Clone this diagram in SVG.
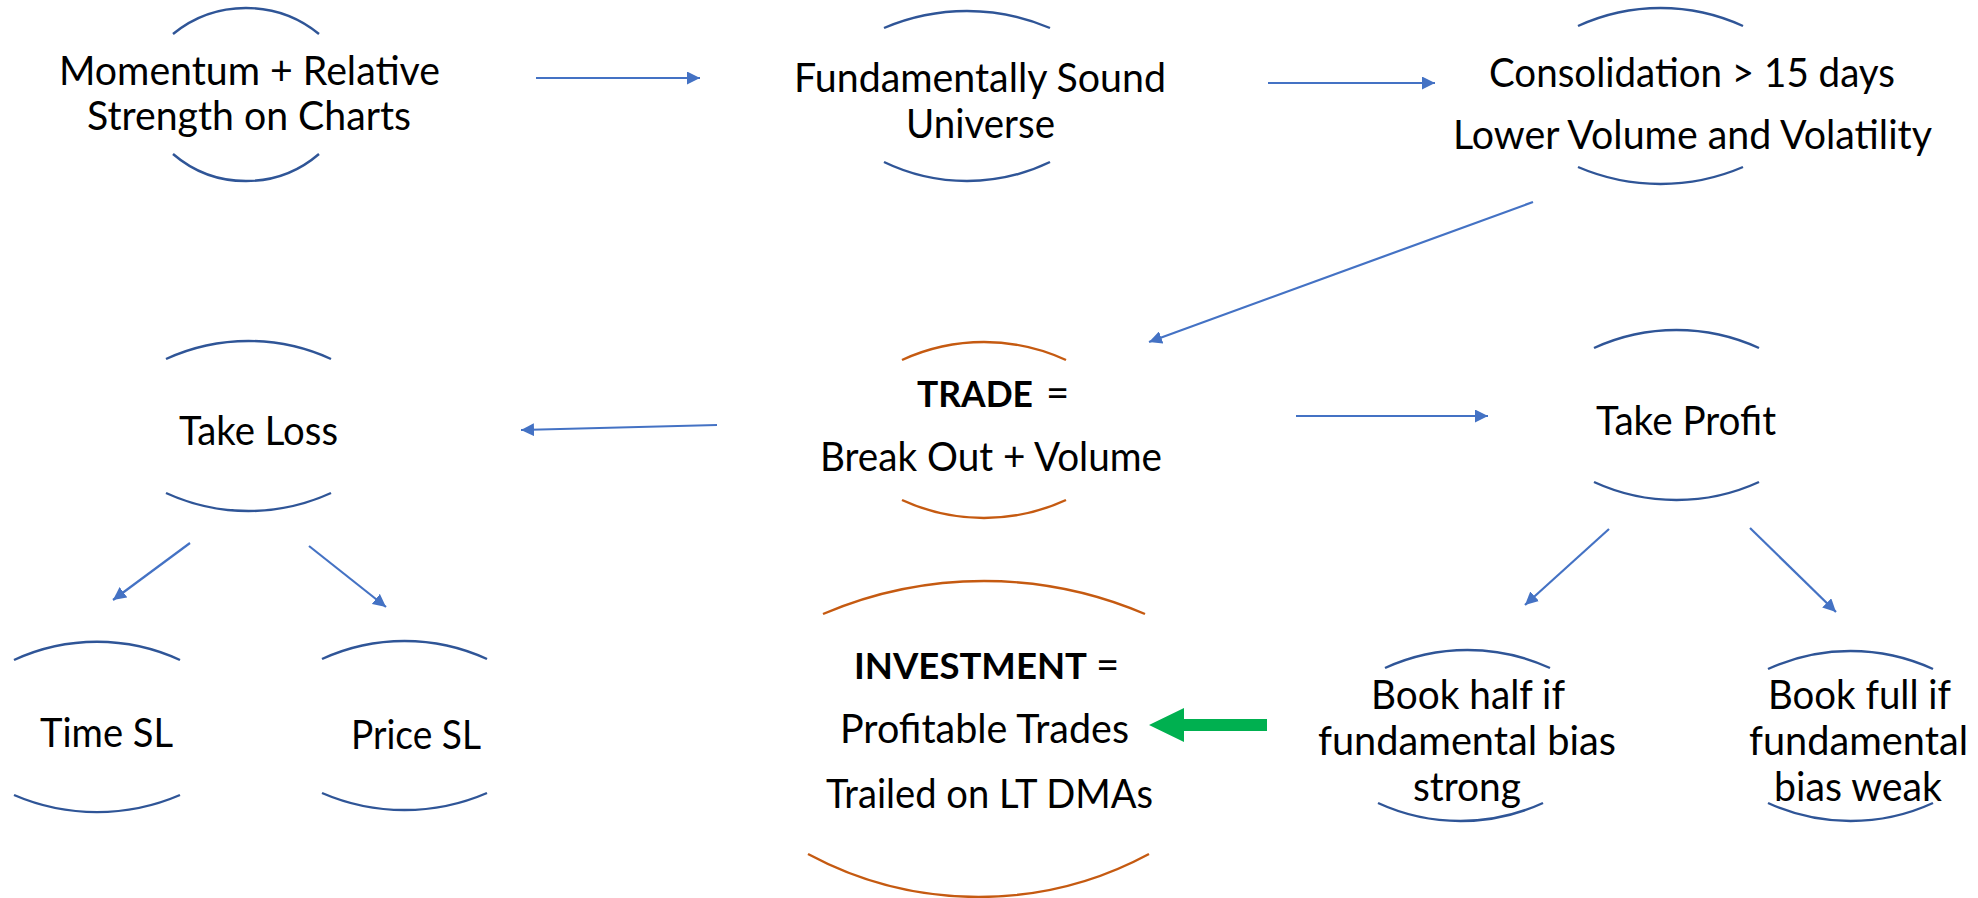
<svg xmlns="http://www.w3.org/2000/svg" width="1978" height="898" viewBox="0 0 1978 898">
  <style>
    .bg { fill: #ffffff; }
    .arc { fill: none; stroke: #2F5597; stroke-width: 2.4; }
    .arc-o { fill: none; stroke: #C55A11; stroke-width: 2.4; }
    .lbl { font-family: Lato, "Liberation Sans", sans-serif; font-size: 40px; fill: #000000; text-anchor: middle; }
    .lbl-s { font-family: Lato, "Liberation Sans", sans-serif; font-size: 40px; fill: #000000; }
    .b { font-weight: bold; font-size: 37px; }
    .conn { fill: none; stroke: #4472C4; stroke-width: 2.2; marker-end: url(#head); }
    .block { fill: #00B050; }
  </style>
  <defs>
    <marker id="head" viewBox="0 0 13 13" refX="13" refY="6.5" markerWidth="13" markerHeight="13" markerUnits="userSpaceOnUse" orient="auto">
      <path d="M0,0 L13,6.5 L0,13 z" fill="#4472C4"/>
    </marker>
  </defs>
  <rect class="bg" x="0" y="0" width="1978" height="898"/>

  <!-- connectors -->
  <g id="connectors">
    <line class="conn" x1="536" y1="78" x2="700" y2="78"/>
    <line class="conn" x1="1268" y1="83" x2="1435" y2="83"/>
    <line class="conn" x1="1533" y1="202" x2="1149" y2="342"/>
    <line class="conn" x1="717" y1="425" x2="521" y2="430"/>
    <line class="conn" x1="190" y1="543" x2="113" y2="600"/>
    <line class="conn" x1="309" y1="546" x2="386" y2="607"/>
    <line class="conn" x1="1296" y1="416" x2="1488" y2="416"/>
    <line class="conn" x1="1609" y1="529" x2="1525" y2="605"/>
    <line class="conn" x1="1750" y1="528" x2="1836" y2="612"/>
    <polygon class="block" points="1149,725 1184,708 1184,719 1267,719 1267,731 1184,731 1184,742"/>
  </g>

  <g id="node-momentum">
    <path class="arc" d="M173,34 A115.5,115.5 0 0 1 319,34"/>
    <path class="arc" d="M173,154 A112,112 0 0 0 319,154"/>
    <text class="lbl" x="249.5" y="85" textLength="381" lengthAdjust="spacingAndGlyphs">Momentum + Relative</text>
    <text class="lbl" x="249" y="130" textLength="324" lengthAdjust="spacingAndGlyphs">Strength on Charts</text>
  </g>

  <g id="node-universe">
    <path class="arc" d="M884,28 A211,211 0 0 1 1050,28"/>
    <path class="arc" d="M884,162 A191,191 0 0 0 1050,162"/>
    <text class="lbl" x="980" y="92" textLength="372" lengthAdjust="spacingAndGlyphs">Fundamentally Sound</text>
    <text class="lbl" x="980.5" y="138" textLength="149" lengthAdjust="spacingAndGlyphs">Universe</text>
  </g>

  <g id="node-consolidation">
    <path class="arc" d="M1578,26 A198,198 0 0 1 1743,26"/>
    <path class="arc" d="M1578,167 A209,209 0 0 0 1743,167"/>
    <text class="lbl" x="1692" y="87" textLength="406" lengthAdjust="spacingAndGlyphs">Consolidation &gt; 15 days</text>
    <text class="lbl" x="1692.5" y="149" textLength="479" lengthAdjust="spacingAndGlyphs">Lower Volume and Volatility</text>
  </g>

  <g id="node-trade">
    <path class="arc-o" d="M902,360 A196,196 0 0 1 1066,360"/>
    <path class="arc-o" d="M902,500 A196,196 0 0 0 1066,500"/>
    <text class="lbl-s b" x="917" y="407" textLength="116" lengthAdjust="spacingAndGlyphs">TRADE</text>
    <text class="lbl-s" x="1046" y="407">=</text>
    <text class="lbl" x="991" y="471" textLength="342" lengthAdjust="spacingAndGlyphs">Break Out + Volume</text>
  </g>

  <g id="node-take-loss">
    <path class="arc" d="M166,359 A198,198 0 0 1 331,359"/>
    <path class="arc" d="M166,493 A198,198 0 0 0 331,493"/>
    <text class="lbl" x="258.5" y="445" textLength="159" lengthAdjust="spacingAndGlyphs">Take Loss</text>
  </g>

  <g id="node-take-profit">
    <path class="arc" d="M1594,348 A198,198 0 0 1 1759,348"/>
    <path class="arc" d="M1594,482 A198,198 0 0 0 1759,482"/>
    <text class="lbl" x="1686" y="435" textLength="180" lengthAdjust="spacingAndGlyphs">Take Profit</text>
  </g>

  <g id="node-time-sl">
    <path class="arc" d="M14,660 A198,198 0 0 1 180,660"/>
    <path class="arc" d="M14,795 A210,210 0 0 0 180,795"/>
    <text class="lbl" x="106.5" y="747" textLength="133" lengthAdjust="spacingAndGlyphs">Time SL</text>
  </g>

  <g id="node-price-sl">
    <path class="arc" d="M322,659 A198,198 0 0 1 487,659"/>
    <path class="arc" d="M322,793 A208,208 0 0 0 487,793"/>
    <text class="lbl" x="416" y="749" textLength="130" lengthAdjust="spacingAndGlyphs">Price SL</text>
  </g>

  <g id="node-investment">
    <path class="arc-o" d="M823,614 A409,409 0 0 1 1145,614"/>
    <path class="arc-o" d="M808,854 A360,360 0 0 0 1149,854"/>
    <text class="lbl-s b" x="854" y="679" textLength="233" lengthAdjust="spacingAndGlyphs">INVESTMENT</text>
    <text class="lbl-s" x="1096" y="679">=</text>
    <text class="lbl" x="984.5" y="743" textLength="289" lengthAdjust="spacingAndGlyphs">Profitable Trades</text>
    <text class="lbl" x="989.5" y="808" textLength="327" lengthAdjust="spacingAndGlyphs">Trailed on LT DMAs</text>
  </g>

  <g id="node-book-half">
    <path class="arc" d="M1385,668 A198,198 0 0 1 1550,668"/>
    <path class="arc" d="M1378,803 A198,198 0 0 0 1543,803"/>
    <text class="lbl" x="1468" y="709" textLength="194" lengthAdjust="spacingAndGlyphs">Book half if</text>
    <text class="lbl" x="1467" y="755" textLength="298" lengthAdjust="spacingAndGlyphs">fundamental bias</text>
    <text class="lbl" x="1467" y="801" textLength="108" lengthAdjust="spacingAndGlyphs">strong</text>
  </g>

  <g id="node-book-full">
    <path class="arc" d="M1768,669 A198,198 0 0 1 1933,669"/>
    <path class="arc" d="M1768,803 A198,198 0 0 0 1933,803"/>
    <text class="lbl" x="1859.5" y="709" textLength="183" lengthAdjust="spacingAndGlyphs">Book full if</text>
    <text class="lbl" x="1858.5" y="755" textLength="219" lengthAdjust="spacingAndGlyphs">fundamental</text>
    <text class="lbl" x="1858" y="801" textLength="168" lengthAdjust="spacingAndGlyphs">bias weak</text>
  </g>
</svg>
